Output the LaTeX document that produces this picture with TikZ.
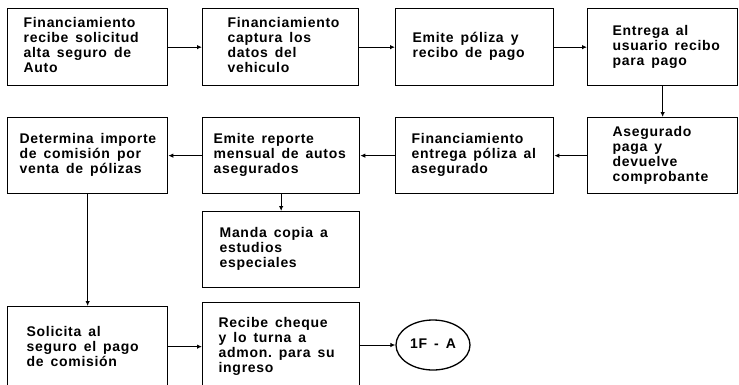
\documentclass[tikz,border=0pt]{standalone}
\usepackage{fontspec}
\newfontfamily\boxfont{Liberation Sans}[LetterSpace=5]
\usetikzlibrary{arrows.meta,shapes.geometric}
\newcommand\txtlines[1]{\spaceskip=7pt\relax\begin{tabular}{@{}l@{}}#1\end{tabular}}
\begin{document}
\begin{tikzpicture}[x=1pt,y=-1pt,
  every node/.style={font=\boxfont\bfseries\fontsize{14}{15}\selectfont},
  stepbox/.style n args={4}{draw, line width=1.3pt, anchor=north west,
    minimum width=#1, minimum height=#2, text width=#3, inner xsep=#4,
    inner ysep=0pt, align=left},
  arr/.style={line width=1pt, -{Latex[length=5pt,width=4.5pt]}},
  endnode/.style={draw, ellipse, line width=1.3pt, minimum width=74pt,
    minimum height=50pt, inner sep=0pt}]
\useasboundingbox (0,0) rectangle (739,384);
\clip (0,0) rectangle (739,384);
% row 1
\node[stepbox={160pt}{77pt}{128pt}{16pt}] (A) at (7,8)
  {\txtlines{Financiamiento\\recibe solicitud\\alta seguro de\\Auto}};
\node[stepbox={156pt}{77pt}{106pt}{25pt}] (B) at (202,8)
  {\txtlines{Financiamiento\\captura los\\datos del\\vehiculo}};
\node[stepbox={158pt}{77pt}{124pt}{17pt}] (C) at (395,8)
  {\txtlines{Emite póliza y\\recibo de pago}};
\node[stepbox={150pt}{77pt}{100pt}{25pt}] (D) at (587,8)
  {\txtlines{Entrega al\\usuario recibo\\para pago}};
% row 2
\node[stepbox={160pt}{76pt}{136pt}{12pt}] (Det) at (7,117)
  {\txtlines{Determina importe\\de comisión por\\venta de pólizas}};
\node[stepbox={157pt}{76pt}{135pt}{11pt}] (Rep) at (202,117)
  {\txtlines{Emite reporte\\mensual de autos\\asegurados}};
\node[stepbox={158pt}{76pt}{126pt}{16pt}] (Ent) at (395,117)
  {\txtlines{Financiamiento\\entrega póliza al\\asegurado}};
\node[stepbox={150pt}{76pt}{100pt}{25pt}] (Ase) at (587,117)
  {\txtlines{Asegurado\\paga y\\devuelve\\comprobante}};
% row 3
\node[stepbox={157pt}{76pt}{123pt}{17pt}] (Manda) at (202,211)
  {\txtlines{Manda copia a\\estudios\\especiales}};
% row 4
\node[stepbox={160pt}{84pt}{122pt}{19pt}] (Sol) at (7,306)
  {\txtlines{Solicita al\\seguro el pago\\de comisión}};
\node[stepbox={157pt}{88pt}{125pt}{16pt}] (Rec) at (202,302)
  {\txtlines{Recibe cheque\\y lo turna a\\admon. para su\\ingreso}};
\node[endnode] (End) at (433,345) {\txtlines{1F - A}};
% connectors
\draw[arr] (A) -- (B);
\draw[arr] (B) -- (C);
\draw[arr] (C) -- (D);
\draw[arr] (D) -- (Ase);
\draw[arr] (Ase) -- (Ent);
\draw[arr] (Ent) -- (Rep);
\draw[arr] (Rep) -- (Det);
\draw[arr] (Rep) -- (Manda);
\draw[arr] (Det) -- (Sol);
\draw[arr] (Sol.east |- Rec) -- (Rec.west);
\draw[arr] (Rec.east |- End) -- (End.west);
\end{tikzpicture}
\end{document}
